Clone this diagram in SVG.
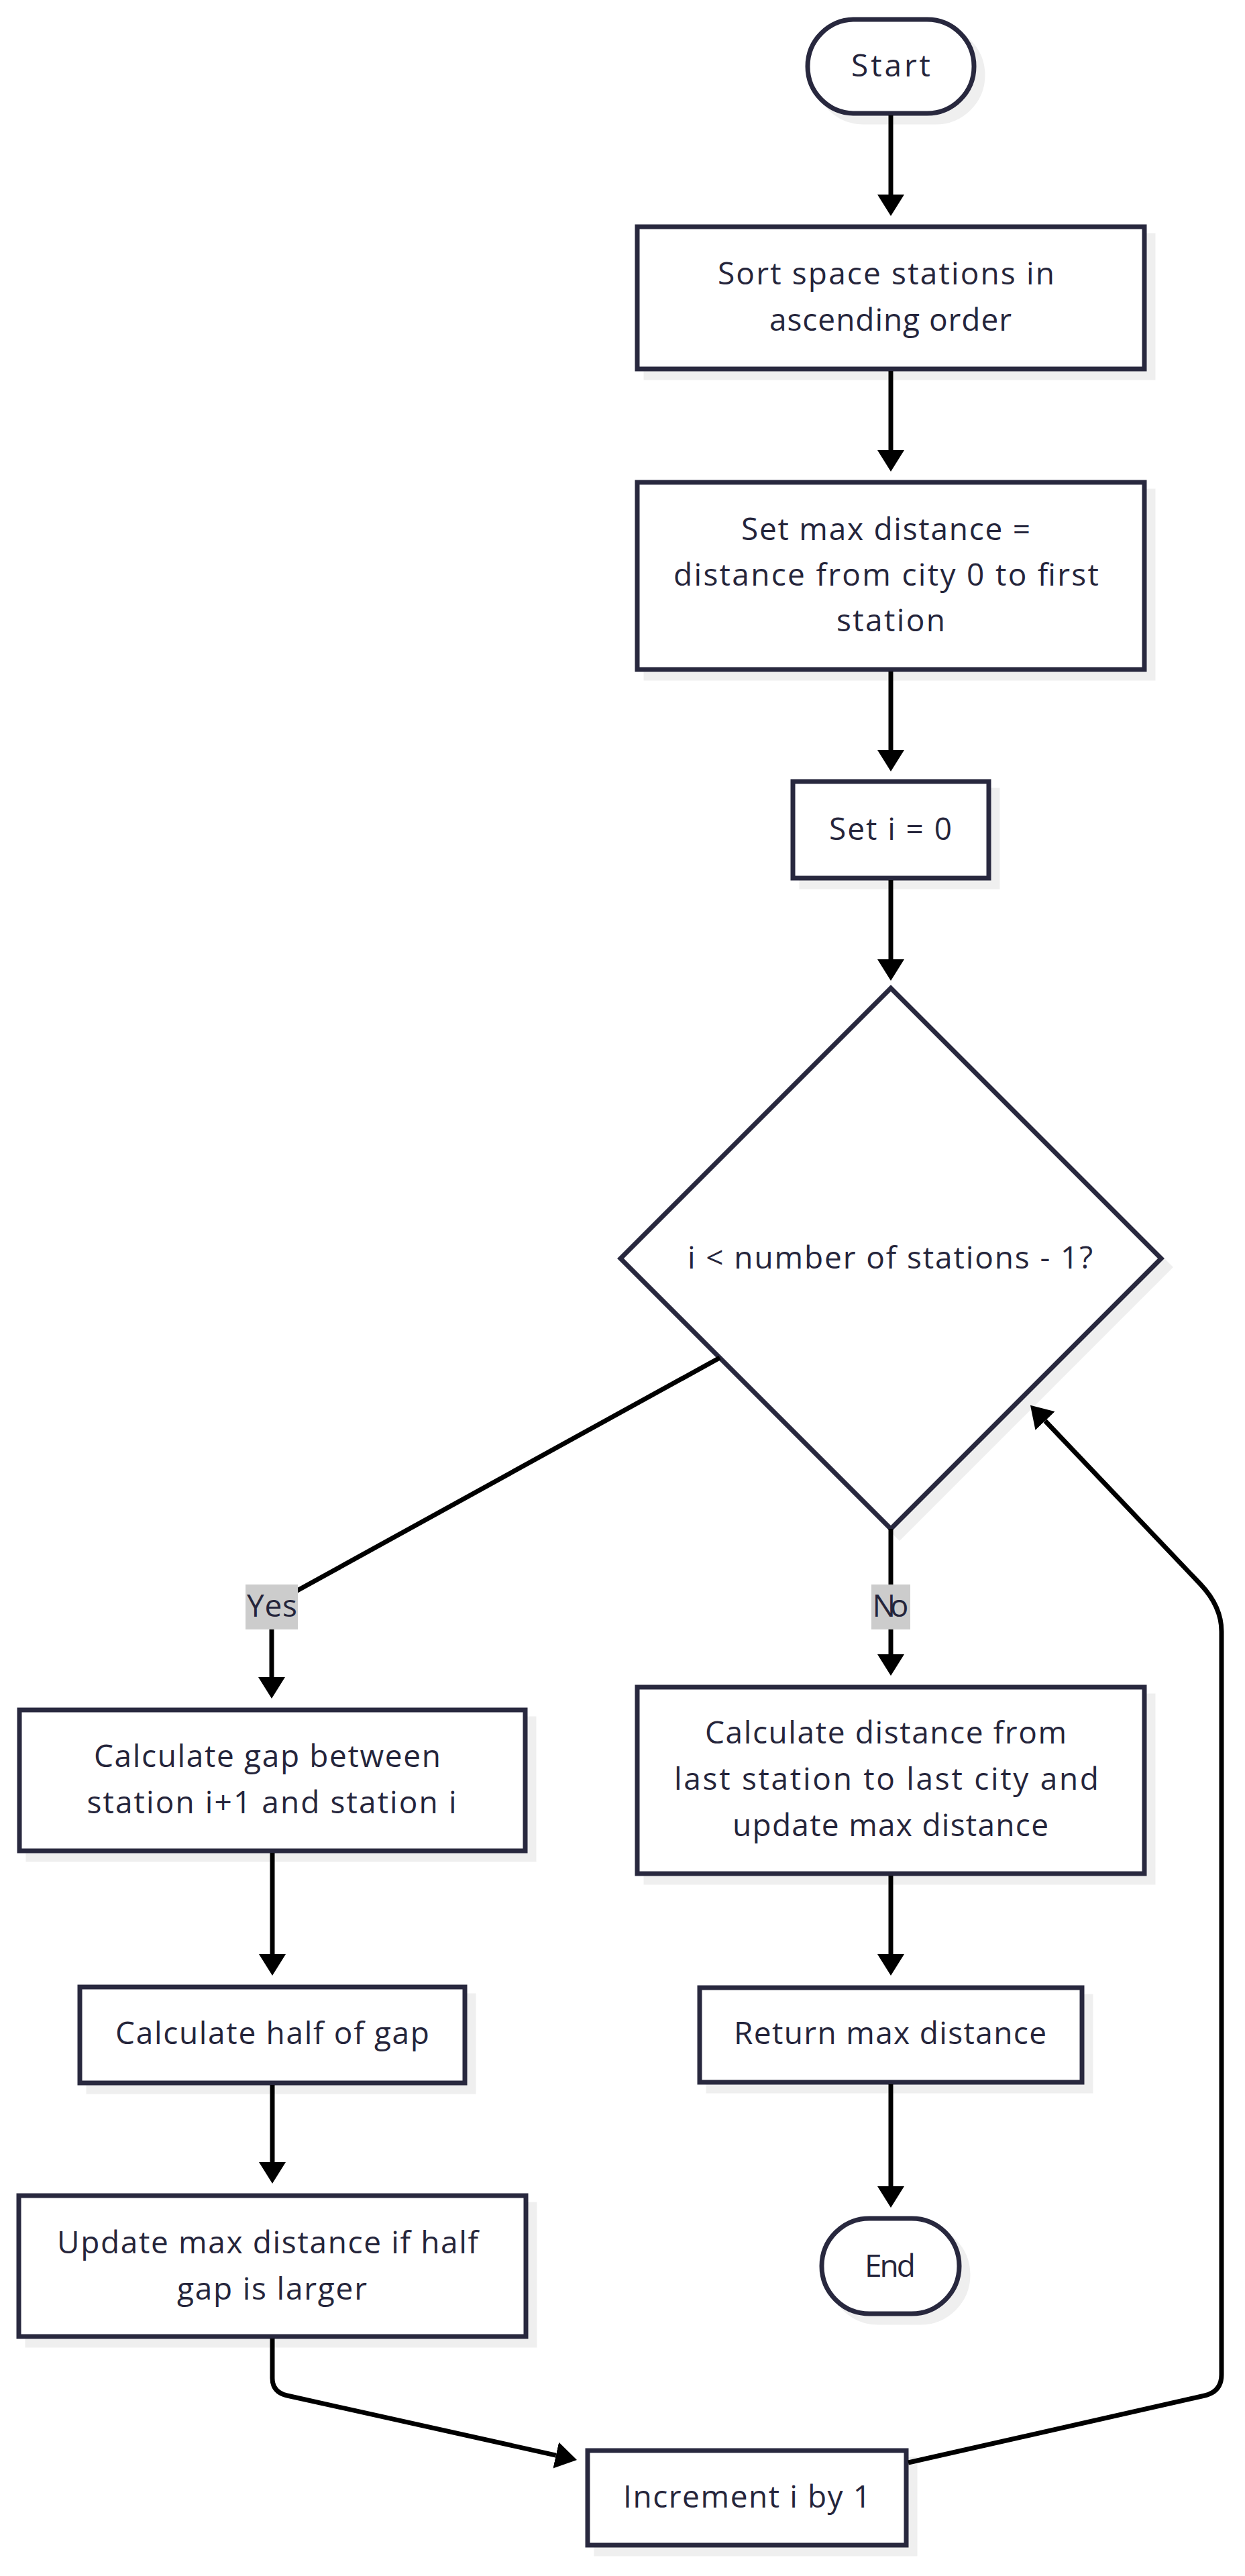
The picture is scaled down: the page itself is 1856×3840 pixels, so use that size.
<svg xmlns="http://www.w3.org/2000/svg" width="1856" height="3840" viewBox="0 0 1856 3840">
<defs>
<marker id="arrow" markerUnits="userSpaceOnUse" markerWidth="32" markerHeight="40" refX="0" refY="20" orient="auto" viewBox="0 0 32 40"><path d="M0,0 L32,20 L0,40 z" fill="#000000"/></marker>
</defs>
<style>
.shape{fill:#ffffff;stroke:#28283e;stroke-width:7}
.shadow{fill:#efefef;stroke:#efefef;stroke-width:7}
.t{font-family:"Open Sans","Liberation Sans",sans-serif;font-size:46px;fill:#25253b;text-anchor:middle}
.edge{fill:none;stroke:#000000;stroke-width:7;marker-end:url(#arrow)}
.lbg{fill:#cccccc}
</style>
<rect x="0" y="0" width="1856" height="3840" fill="#ffffff"/>
<g id="nodes">
<g id="start">
<rect class="shadow" x="1217" y="42" width="248" height="140" rx="70"/>
<rect class="shape" x="1204" y="29" width="248" height="140" rx="70"/>
<text class="t" x="1328" y="114" textLength="118" lengthAdjust="spacing">Start</text>
</g>
<g id="sort">
<rect class="shadow" x="963" y="351" width="756" height="212"/>
<rect class="shape" x="950" y="338" width="756" height="212"/>
<text class="t" x="1321" y="424" textLength="502" lengthAdjust="spacing">Sort space stations in</text>
<text class="t" x="1327.5" y="493" textLength="361" lengthAdjust="spacing">ascending order</text>
</g>
<g id="setmax">
<rect class="shadow" x="963" y="732" width="756" height="279"/>
<rect class="shape" x="950" y="719" width="756" height="279"/>
<text class="t" x="1320.5" y="805" textLength="431" lengthAdjust="spacing">Set max distance =</text>
<text class="t" x="1321" y="873" textLength="634" lengthAdjust="spacing">distance from city 0 to first</text>
<text class="t" x="1328" y="941" textLength="162" lengthAdjust="spacing">station</text>
</g>
<g id="seti">
<rect class="shadow" x="1195" y="1178" width="292" height="144"/>
<rect class="shape" x="1182" y="1165" width="292" height="144"/>
<text class="t" x="1327.5" y="1252" textLength="183" lengthAdjust="spacing">Set i = 0</text>
</g>
<g id="decision">
<polygon class="shadow" points="1341,1486 1744,1889 1341,2292 938,1889"/>
<polygon class="shape" points="1328,1473 1731,1876 1328,2279 925,1876"/>
<text class="t" x="1327" y="1891" textLength="604" lengthAdjust="spacing">i &lt; number of stations - 1?</text>
</g>
<g id="calcgap">
<rect class="shadow" x="42" y="2562" width="754" height="210"/>
<rect class="shape" x="29" y="2549" width="754" height="210"/>
<text class="t" x="398.5" y="2634" textLength="517" lengthAdjust="spacing">Calculate gap between</text>
<text class="t" x="405" y="2703" textLength="551" lengthAdjust="spacing">station i+1 and station i</text>
</g>
<g id="calcdist">
<rect class="shadow" x="963" y="2528" width="756" height="278"/>
<rect class="shape" x="950" y="2515" width="756" height="278"/>
<text class="t" x="1320.5" y="2599" textLength="539" lengthAdjust="spacing">Calculate distance from</text>
<text class="t" x="1321.5" y="2668" textLength="633" lengthAdjust="spacing">last station to last city and</text>
<text class="t" x="1327.5" y="2737" textLength="471" lengthAdjust="spacing">update max distance</text>
</g>
<g id="halfgap">
<rect class="shadow" x="132" y="2975" width="574" height="143"/>
<rect class="shape" x="119" y="2962" width="574" height="143"/>
<text class="t" x="406" y="3047" textLength="468" lengthAdjust="spacing">Calculate half of gap</text>
</g>
<g id="return">
<rect class="shadow" x="1056" y="2976" width="570" height="141"/>
<rect class="shape" x="1043" y="2963" width="570" height="141"/>
<text class="t" x="1327" y="3047" textLength="466" lengthAdjust="spacing">Return max distance</text>
</g>
<g id="update">
<rect class="shadow" x="41" y="3286" width="756" height="210"/>
<rect class="shape" x="28" y="3273" width="756" height="210"/>
<text class="t" x="399" y="3359" textLength="628" lengthAdjust="spacing">Update max distance if half</text>
<text class="t" x="405.5" y="3428" textLength="283" lengthAdjust="spacing">gap is larger</text>
</g>
<g id="end">
<rect class="shadow" x="1238" y="3320" width="205" height="142" rx="71"/>
<rect class="shape" x="1225" y="3307" width="205" height="142" rx="71"/>
<text class="t" x="1327" y="3394" textLength="76" lengthAdjust="spacing">End</text>
</g>
<g id="increment">
<rect class="shadow" x="889" y="3666" width="475" height="141"/>
<rect class="shape" x="876" y="3653" width="475" height="141"/>
<text class="t" x="1113.5" y="3738" textLength="369" lengthAdjust="spacing">Increment i by 1</text>
</g>
</g>
<g id="edges">
<path class="edge" d="M1328,172 L1328,290"/>
<path class="edge" d="M1328,553 L1328,671"/>
<path class="edge" d="M1328,1001 L1328,1118"/>
<path class="edge" d="M1328,1312 L1328,1430"/>
<path class="edge" d="M1073,2024 L405,2392 L405,2500"/>
<path class="edge" d="M1328,2279 L1328,2466"/>
<path class="edge" d="M406,2762 L406,2913"/>
<path class="edge" d="M406,3108 L406,3223"/>
<path class="edge" d="M406,3486 L406,3545 Q406,3566 428,3571 L828.8,3660.1"/>
<path class="edge" d="M1328,2796 L1328,2913"/>
<path class="edge" d="M1328,3107 L1328,3259"/>
<path class="edge" d="M1354,3671 L1796,3571 Q1821,3565 1821,3540 L1821,2432 Q1821,2395 1790,2362 L1558,2118"/>
</g>
<g id="edge-labels">
<g id="label-yes">
<rect class="lbg" x="366" y="2362" width="78" height="67"/>
<text class="t" x="405.5" y="2410" textLength="75" lengthAdjust="spacing">Yes</text>
</g>
<g id="label-no">
<rect class="lbg" x="1299" y="2362" width="58" height="67"/>
<text class="t" x="1327.5" y="2410" textLength="54" lengthAdjust="spacing">No</text>
</g>
</g>
</svg>
